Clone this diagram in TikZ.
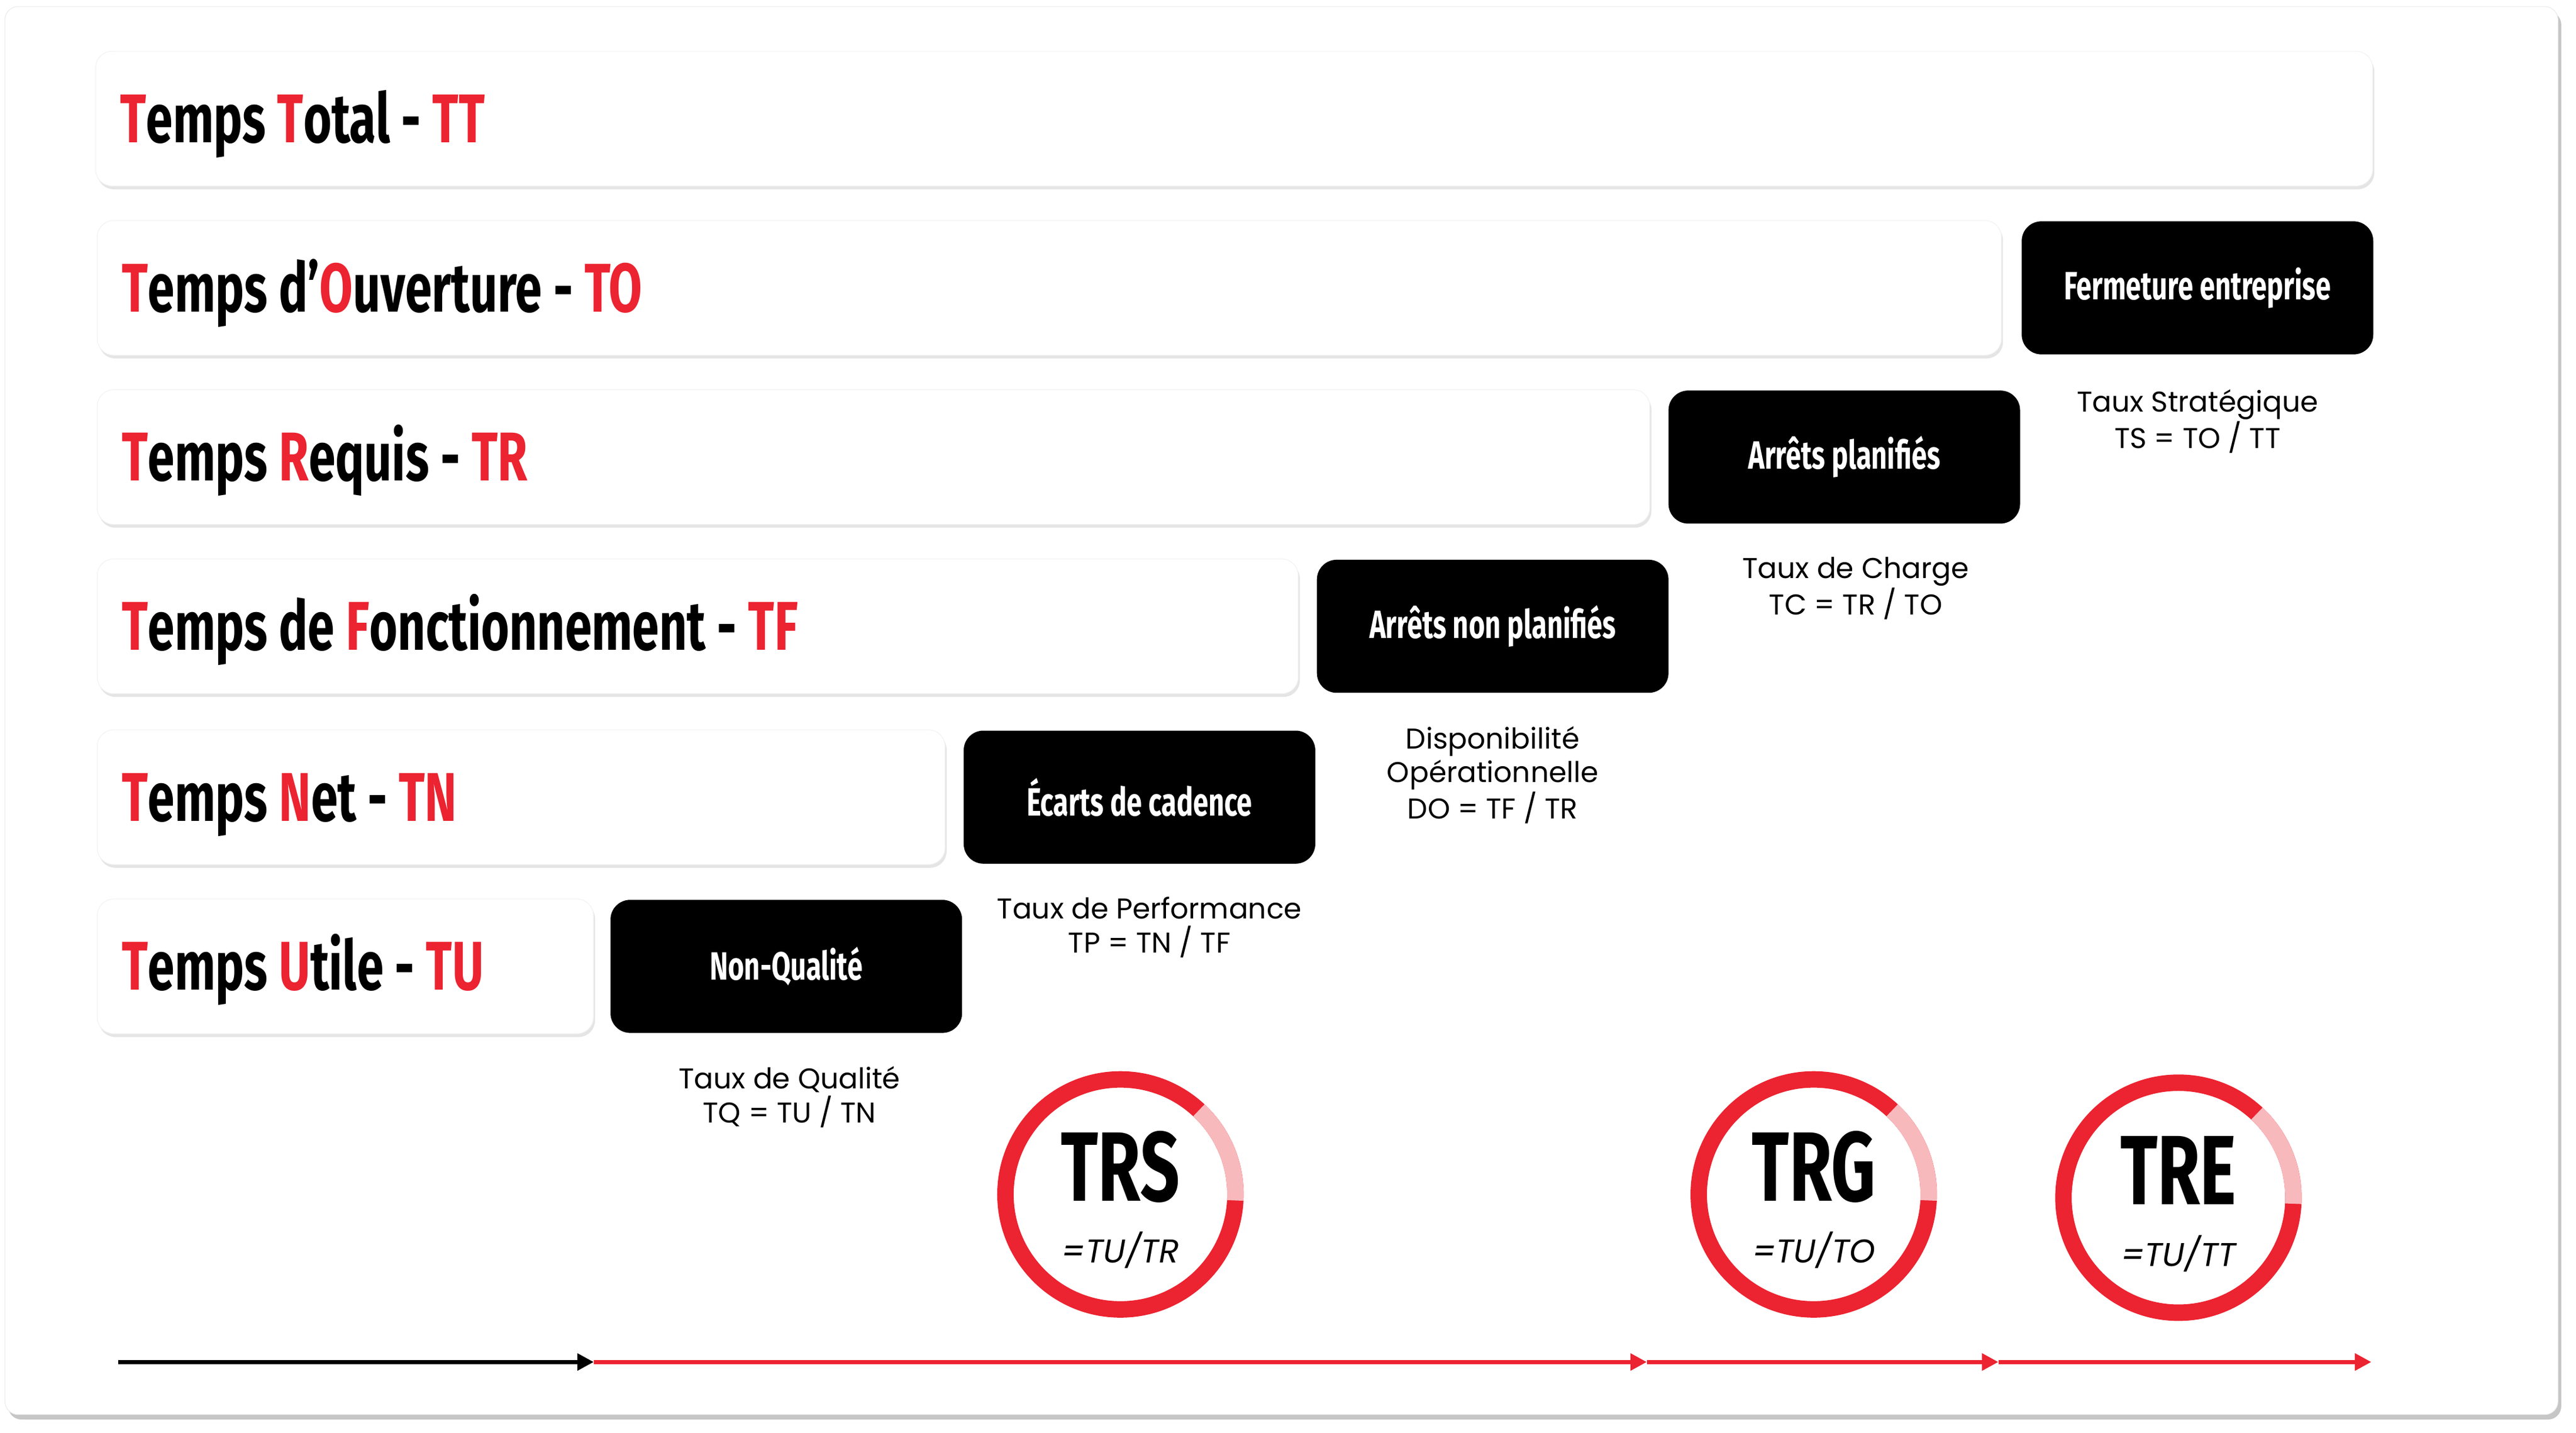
\documentclass[tikz,border=0pt]{standalone}
\usepackage{fontspec}
\setmainfont{Poppins}
\newfontfamily\condfont[FakeStretch=0.70]{Fira Sans}
\newfontfamily\kpifont[FakeStretch=0.7]{Fira Sans}
\usetikzlibrary{positioning,arrows.meta,shadows}
\definecolor{trsred}{HTML}{EC2330}
\definecolor{trspink}{HTML}{F8B9BD}
\newcommand{\rt}[1]{\textcolor{trsred}{#1}}

\tikzset{
  bar/.style={fill=white, draw=black!5, rounded corners=10pt,
    drop shadow={shadow xshift=1pt, shadow yshift=-2pt, opacity=0.2},
    minimum height=82pt, anchor=north west},
  bartitle/.style={anchor=west, xshift=15pt, inner sep=0pt,
    font=\condfont\bfseries\fontsize{42}{42}\selectfont,
    text height=29pt, text depth=0pt},
  stopbox/.style={fill=black, text=white, rounded corners=12pt,
    minimum width=214pt, minimum height=81pt,
    font=\condfont\bfseries\fontsize{24}{24}\selectfont},
  rate/.style={font=\fontsize{17.4}{20.6}\selectfont, align=center, inner sep=0pt},
  ring/.style={trsred, line width=10pt},
  ringgap/.style={trspink, line width=10pt},
  kpi/.style={font=\kpifont\bfseries\fontsize{60}{60}\selectfont, anchor=base, inner sep=0pt},
  kpiformula/.style={font=\itshape\fontsize{20}{20}\selectfont, anchor=base, inner sep=0pt},
  timeline/.style={line width=2.5pt, -{Triangle[length=10pt,width=10pt]}}
}

\begin{document}
\begin{tikzpicture}[x=1pt,y=1pt]
\useasboundingbox (0,0) rectangle (1568,-872);
% card
\draw[fill=white, draw=black!8, rounded corners=8pt,
  drop shadow={shadow xshift=2pt, shadow yshift=-3pt, opacity=0.45}]
  (3,-4) rectangle (1557,-861);

% time bars
\node[bar, minimum width=1386pt] (tt) at (58,-31) {};
\node[bar, minimum width=1159pt] (to) at (59,-134) {};
\node[bar, minimum width=945pt] (tr) at (59,-237) {};
\node[bar, minimum width=731pt] (tf) at (59,-340) {};
\node[bar, minimum width=516pt] (tn) at (59,-444) {};
\node[bar, minimum width=302pt] (tu) at (59,-547) {};
\node[bartitle] (ttl) at (tt.west) {\rt{T}emps \rt{T}otal - \rt{TT}};
\node[bartitle] (tol) at (to.west) {\rt{T}emps d’\rt{O}uverture - \rt{TO}};
\node[bartitle] (trl) at (tr.west) {\rt{T}emps \rt{R}equis - \rt{TR}};
\node[bartitle] (tfl) at (tf.west) {\rt{T}emps de \rt{F}onctionnement - \rt{TF}};
\node[bartitle] (tnl) at (tn.west) {\rt{T}emps \rt{N}et - \rt{TN}};
\node[bartitle] (tul) at (tu.west) {\rt{T}emps \rt{U}tile - \rt{TU}};

% losses
\node[stopbox, right=12pt of to] (fe) {Fermeture entreprise};
\node[stopbox, right=11pt of tr] (ap) {Arrêts planifiés};
\node[stopbox, right=11pt of tf] (anp) {Arrêts non planifiés};
\node[stopbox, right=11pt of tn] (ec) {Écarts de cadence};
\node[stopbox, right=10pt of tu] (nq) {Non-Qualité};

% rates
\node[rate, below=21pt of fe] (ts) {Taux Stratégique\\TS = TO / TT};
\node[rate, below=20pt of ap, xshift=7pt] (tc) {Taux de Charge\\TC = TR / TO};
\node[rate, below=20pt of anp] (do) {Disponibilité\\Opérationnelle\\DO = TF / TR};
\node[rate, below=20pt of ec, xshift=6pt] (tp) {Taux de Performance\\TP = TN / TF};
\node[rate, below=20pt of nq, xshift=2pt] (tq) {Taux de Qualité\\TQ = TU / TN};

% indicators
\coordinate (trsc) at (682,-727);
\coordinate (trgc) at (1104,-727);
\coordinate (trec) at (1326,-729);
\foreach \c in {trsc,trgc,trec}{
  \draw[ring] (\c) circle (70pt);
  \draw[ringgap] (\c) ++(-3:70pt) arc[start angle=-3, end angle=47, radius=70pt];
}
\node[kpi] (trs) at ([yshift=-4pt]trsc) {TRS};
\node[kpiformula] (trsf) at ([yshift=-41.6pt]trsc) {=TU/TR};
\node[kpi] (trg) at ([yshift=-4pt]trgc) {TRG};
\node[kpiformula] (trgf) at ([yshift=-41.6pt]trgc) {=TU/TO};
\node[kpi] (tre) at ([yshift=-4pt]trec) {TRE};
\node[kpiformula] (tref) at ([yshift=-41.6pt]trec) {=TU/TT};

% timeline
\coordinate (a0) at (72,-829);
\coordinate (a1) at (tu.east |- a0);
\coordinate (a2) at ([xshift=-2pt]tr.east |- a0);
\coordinate (a3) at ([xshift=-2pt]to.east |- a0);
\coordinate (a4) at ([xshift=-1pt]tt.east |- a0);
\draw[timeline, black] (a0) -- (a1);
\draw[timeline, trsred] (a1) -- (a2);
\draw[timeline, trsred] (a2) -- (a3);
\draw[timeline, trsred] (a3) -- (a4);
\end{tikzpicture}
\end{document}
